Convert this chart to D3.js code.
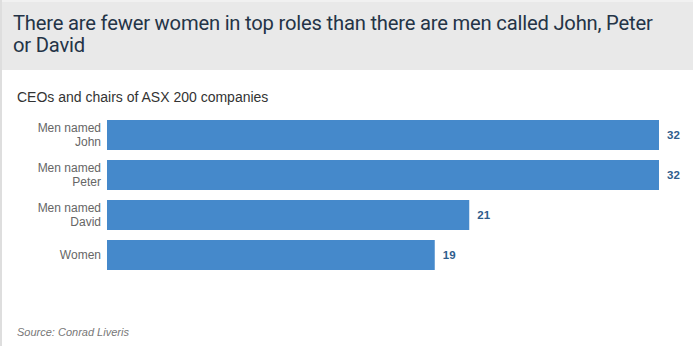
<!DOCTYPE html>
<html><head><meta charset="utf-8">
<script src="https://cdn.jsdelivr.net/npm/d3@7"></script>
<style>
html,body{margin:0;padding:0;background:#fff;}
svg{display:block;}
</style></head>
<body>
<svg id="chart" width="693" height="346"></svg>
<script>
const titleLines = ["There are fewer women in top roles than there are men called John, Peter", "or David"];
const subtitle = "CEOs and chairs of ASX 200 companies";
const source = "Source: Conrad Liveris";
const categories = [["Men named","John"],["Men named","Peter"],["Men named","David"],["Women"]];
const values = [32, 32, 21, 19];

const svg = d3.select("#chart");
const W = 693, H = 346;

// frame
svg.append("rect").attr("x",0).attr("y",0).attr("width",W).attr("height",H).attr("fill","#fff");
svg.append("rect").attr("x",0).attr("y",0).attr("width",W).attr("height",70).attr("fill","#e9e9e9");
svg.append("rect").attr("x",0).attr("y",0).attr("width",W).attr("height",2).attr("fill","#f1f1f1");
svg.append("rect").attr("x",0).attr("y",0).attr("width",2).attr("height",H).attr("fill","#dedede");

svg.append("g").selectAll("text").data(titleLines).join("text")
  .attr("x",13).attr("y",(d,i)=>30+i*22)
  .attr("font-family","Roboto, 'Open Sans', sans-serif")
  .attr("font-size",20.2).attr("fill","#243447")
  .attr("letter-spacing","-0.2")
  .text(d=>d);

svg.append("text").attr("x",17).attr("y",102)
  .attr("font-family","Arial, 'Liberation Sans', sans-serif")
  .attr("font-size",14).attr("fill","#333").text(subtitle);

const x = d3.scaleLinear().domain([0,32]).range([107,659]);
const y = d3.scaleBand().domain(d3.range(values.length)).range([115,275]).paddingInner(0.25).paddingOuter(0.125);

svg.append("g").selectAll("rect").data(values).join("rect")
  .attr("x",x(0)).attr("y",(d,i)=>y(i))
  .attr("width",d=>x(d)-x(0)).attr("height",y.bandwidth())
  .attr("fill","#4589cb");

svg.append("g").selectAll("text").data(values).join("text")
  .attr("x",d=>x(d)+8).attr("y",(d,i)=>y(i)+y.bandwidth()/2+4)
  .attr("font-family","Arial, 'Liberation Sans', sans-serif")
  .attr("font-size",11.5).attr("font-weight","bold").attr("fill","#2f5d8c")
  .text(d=>d);

const lab = svg.append("g").selectAll("text").data(categories).join("text")
  .attr("text-anchor","end")
  .attr("font-family","Arial, 'Liberation Sans', sans-serif")
  .attr("font-size",12).attr("fill","#666");
lab.each(function(d,i){
  const t = d3.select(this);
  const cy = y(i)+y.bandwidth()/2;
  const n = d.length;
  d.forEach((s,j)=>{
    t.append("tspan").attr("x",101).attr("y",cy+4+(j-(n-1)/2)*14).text(s);
  });
});

svg.append("text").attr("x",17).attr("y",336)
  .attr("font-family","Arial, 'Liberation Sans', sans-serif")
  .attr("font-size",11).attr("font-style","italic").attr("fill","#777").text(source);
</script>
</body></html>
